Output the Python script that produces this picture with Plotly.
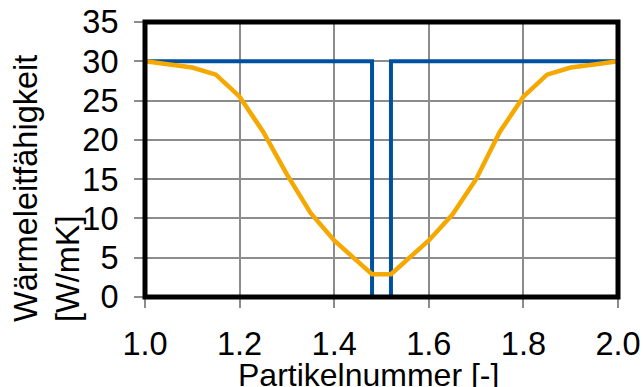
import plotly.graph_objects as go

# Data
blue_x = [1.0, 1.48, 1.48, 1.52, 1.52, 2.0]
blue_y = [30, 30, 0, 0, 30, 30]

orange_x = [1.0, 1.05, 1.1, 1.15, 1.2, 1.25, 1.3, 1.35, 1.4, 1.45, 1.48,
            1.52, 1.55, 1.6, 1.65, 1.7, 1.75, 1.8, 1.85, 1.9, 1.95, 2.0]
orange_y = [30.0, 29.6, 29.2, 28.3, 25.5, 21.0, 15.6, 10.7, 7.2, 4.5, 2.9,
            2.9, 4.5, 7.2, 10.5, 15.0, 21.0, 25.5, 28.3, 29.2, 29.6, 30.0]

x_ticks = [1.0, 1.2, 1.4, 1.6, 1.8, 2.0]
x_ticklabels = ["1.0", "1.2", "1.4", "1.6", "1.8", "2.0"]
y_ticks = [0, 5, 10, 15, 20, 25, 30, 35]
x_range = [1.0, 2.0]
y_range = [0, 35]

FONT = "Liberation Sans, Arial, sans-serif"
FS = 32.5

fig = go.Figure()
fig.add_trace(go.Scatter(x=blue_x, y=blue_y, mode="lines",
                         line=dict(color="#0050A0", width=4), showlegend=False))
fig.add_trace(go.Scatter(x=orange_x, y=orange_y, mode="lines",
                         line=dict(color="#F5A800", width=4.5), showlegend=False))

L, R, T, B = 145, 25, 22, 90
W, H = 643, 387
axis_common = dict(showgrid=True, gridcolor="#8C8C8C", gridwidth=2,
                   ticks="outside", ticklen=10, tickwidth=2, tickcolor="#8C8C8C",
                   showline=False, zeroline=False, automargin=False,
                   tickfont=dict(size=FS, family=FONT, color="black"))
fig.update_layout(
    template="none",
    width=W, height=H,
    margin=dict(l=L, r=R, t=T, b=B),
    paper_bgcolor="white", plot_bgcolor="white",
    font=dict(family=FONT, size=FS, color="black"),
    xaxis=dict(range=x_range, tickvals=x_ticks, ticktext=x_ticklabels,
               ticklabelstandoff=8, **axis_common),
    yaxis=dict(range=y_range, tickvals=y_ticks, ticklabelstandoff=9, **axis_common),
    shapes=[dict(type="rect", xref="paper", yref="paper",
                 x0=0, x1=1, y0=0, y1=1,
                 line=dict(color="black", width=5), layer="above")],
    annotations=[
        dict(text="Wärmeleitfähigkeit<br>[W/mK]", textangle=-90, align="left",
             xref="paper", yref="paper", x=(47 - L) / (W - L - R), y=(H - B - 189) / (H - B - T),
             xanchor="center", yanchor="middle", showarrow=False,
             font=dict(size=FS, family=FONT, color="black")),
        dict(text="Partikelnummer [-]", xref="paper", yref="paper",
             x=(368 - L) / (W - L - R), y=(H - B - 375) / (H - B - T),
             xanchor="center", yanchor="middle", showarrow=False,
             font=dict(size=32, family=FONT, color="black")),
    ],
)

fig.write_html("out.html", config={"displayModeBar": False},
               post_script="document.body.style.margin='0';document.body.style.padding='0';")
